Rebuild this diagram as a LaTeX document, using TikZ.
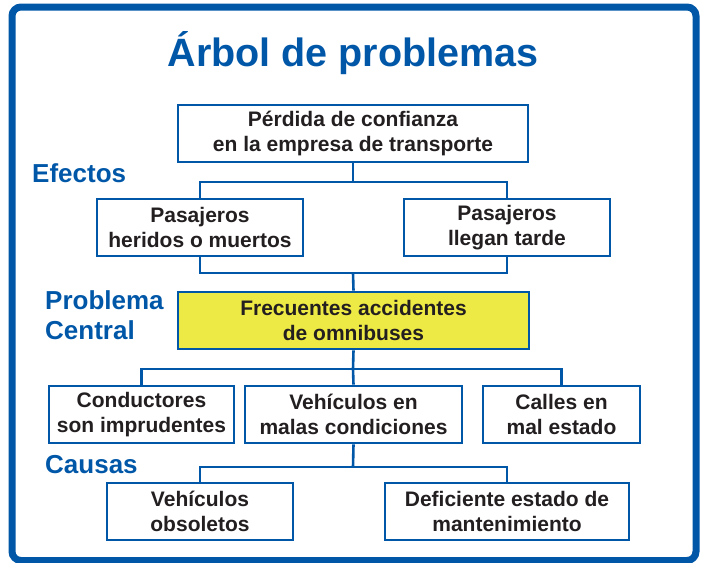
\documentclass[tikz,border=0pt]{standalone}
\usepackage{fontspec}
\setmainfont{Liberation Sans}
\usetikzlibrary{positioning}

\definecolor{azul}{RGB}{0,87,168}
\definecolor{amarillo}{RGB}{238,234,69}
\definecolor{texto}{RGB}{35,31,32}

\begin{document}
\begin{tikzpicture}[x=1pt, y=-1pt,
		caja/.style={draw=azul, line width=2.6pt, fill=white, inner sep=0pt, align=center,
			text=texto, font=\fontsize{21}{25}\selectfont\bfseries},
		rotulo/.style={anchor=west, inner sep=0pt, align=left, text=azul,
			font=\fontsize{26}{30}\selectfont\bfseries},
		linea/.style={draw=azul, line width=2.6pt}]
				\useasboundingbox (0,0) rectangle (701,562);
				\begin{scope}
					\clip (0,0) rectangle (701,562);
					\draw[azul, line width=7pt, rounded corners=9pt] (12,7) rectangle (696,560.5);
				\end{scope}
				
				\node[anchor=base, text=azul, font=\fontsize{39.5}{44}\selectfont\bfseries] (T0) at (353,66) {Árbol de problemas};
				
				\node[rotulo] (R1) at (32,173) {Efectos};
				\node[rotulo] (R2) at (45,315) {Problema\\Central};
				\node[rotulo] (R3) at (45,465) {Causas};
				
				\node[caja, minimum width=350pt, minimum height=57pt] (E0) at (353,133.5) {Pérdida de confianza\\en la empresa de transporte};
				\node[caja, minimum width=206pt, minimum height=57pt] (E1) at (200,227.5) {Pasajeros\\heridos o muertos};
				\node[caja, minimum width=206pt, minimum height=57pt] (E2) at (507,227.5) {Pasajeros\\llegan tarde};
				
				\node[caja, fill=amarillo, minimum width=351pt, minimum height=57pt] (P0) at (353.5,320.5) {Frecuentes accidentes\\de omnibuses};
				
				\node[caja, minimum width=185pt, minimum height=57pt] (C1) at (141.5,414.5) {Conductores\\son imprudentes};
				\node[caja, minimum width=217pt, minimum height=57pt] (C2) at (353.5,414.5) {Vehículos en\\malas condiciones};
				\node[caja, minimum width=157pt, minimum height=57pt] (C3) at (561.5,414.5) {Calles en\\mal estado};
				
				\node[caja, minimum width=186pt, minimum height=57pt] (D1) at (200,511.5) {Vehículos\\obsoletos};
				\node[caja, minimum width=244pt, minimum height=57pt] (D2) at (507,511.5) {Deficiente estado de\\mantenimiento};
				
				\coordinate (J1) at (353,182);
				\coordinate (J2) at (353,273);
				\coordinate (J3) at (353,369);
				\coordinate (J4) at (353,467);
				
				\draw[linea] (E0.south) -- (J1);
				\draw[linea] (E1.north) |- (J1) -| (E2.north);
				\draw[linea] (E1.south) |- (J2) -| (E2.south);
				\draw[linea] (J2) -- (P0.north);
				\draw[linea] (P0.south) -- (J3);
				\draw[linea] (C1.north) |- (J3) -| (C3.north);
				\draw[linea] (J3) -- (C2.north);
				\draw[linea] (C2.south) -- (J4);
				\draw[linea] (D1.north) |- (J4) -| (D2.north);
			\end{tikzpicture}
\end{document}
